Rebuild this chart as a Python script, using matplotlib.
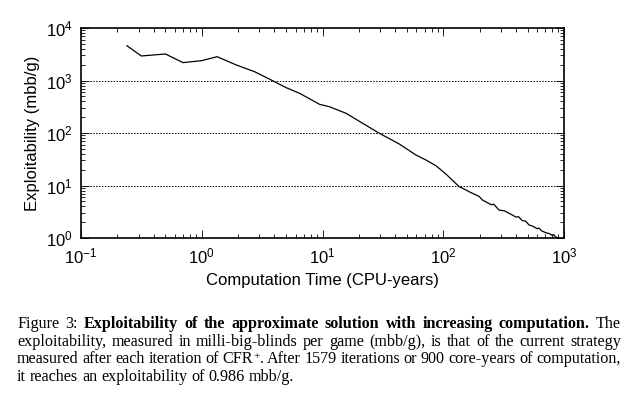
import matplotlib
matplotlib.use("Agg")
import matplotlib.pyplot as plt
from matplotlib.ticker import LogLocator, NullFormatter

# --- donnees ---
temps = [0.24, 0.316, 0.50, 0.70, 1.0, 1.34, 1.94, 2.74, 3.77, 5.0, 6.46, 9.45,
         11.4, 15.7, 21.5, 29.6, 43.3, 59.4, 71.9, 87.0, 105, 135.5, 144, 170,
         198, 211, 250, 262, 290, 320, 374, 400, 420, 450, 480, 514, 550, 600,
         620, 650, 706, 750, 800, 820, 850, 880, 900]
exploit = [4600, 2930, 3200, 2190, 2390, 2840, 1970, 1470, 1020, 730, 570, 352,
           317, 237, 153, 98.6, 61.6, 38.1, 30.6, 23.8, 16.6, 9.5, 8.9, 7.3,
           6.2, 5.3, 4.3, 4.4, 3.4, 3.3, 2.74, 2.5, 2.55, 2.15, 2.1, 1.77, 1.68, 1.5,
           1.55, 1.38, 1.26, 1.22, 1.12, 1.16, 1.05, 1.02, 0.986]

plt.rcParams['font.family'] = ['Liberation Sans', 'DejaVu Sans']
plt.rcParams['mathtext.default'] = 'regular'
plt.rcParams['axes.unicode_minus'] = False

fig = plt.figure(figsize=(6.39, 3.99), dpi=100)
ax = fig.add_axes([81/639, 1-238/399, (564-81)/639, (238-28)/399])

ax.plot(temps, exploit, '-', color='black', lw=0.9)
ax.set_xscale('log')
ax.set_yscale('log')
ax.set_xlim(0.1, 1000)
ax.set_ylim(1, 10000)

ax.xaxis.set_major_locator(LogLocator(base=10, numticks=10))
ax.yaxis.set_major_locator(LogLocator(base=10, numticks=10))
ax.xaxis.set_minor_locator(LogLocator(base=10, subs=range(2, 10), numticks=20))
ax.yaxis.set_minor_locator(LogLocator(base=10, subs=range(2, 10), numticks=20))
ax.xaxis.set_minor_formatter(NullFormatter())
ax.yaxis.set_minor_formatter(NullFormatter())

ax.tick_params(which='both', direction='in', top=True, right=True, width=0.6)
ax.tick_params(which='major', length=6, labelsize=12, pad=6)
ax.tick_params(which='minor', length=3)
for s in ax.spines.values():
    s.set_linewidth(1.2)

for v in [10, 100, 1000]:
    ax.axhline(v, color='black', lw=0.7, ls=(0, (1.5, 1.5)))

ax.set_xlabel('Computation Time (CPU-years)', fontsize=12, labelpad=5)
ax.set_ylabel('Exploitability (mbb/g)', fontsize=12, labelpad=4)

# --- legende sous la figure (texte justifie) ---
fig.canvas.draw()
rend = fig.canvas.get_renderer()
serif = ['Liberation Serif', 'DejaVu Serif']
taille = 11.6
x_g, x_d = 17, 621

lignes = [
    ([("Figure", 'normal'), ("3:", 'normal')] +
     [(m, 'bold') for m in "Exploitability of the approximate solution with increasing computation.".split()] +
     [("The", 'normal')], True, 327.7),
    ([(m, 'normal') for m in "exploitability, measured in milli-big-blinds per game (mbb/g), is that of the current strategy".split()], True, 345.7),
    ([(m, 'normal') for m in "measured after each iteration of CFR+. After 1579 iterations or 900 core-years of computation,".split()], True, 363.4),
    ([(m, 'normal') for m in "it reaches an exploitability of 0.986 mbb/g.".split()], False, 381.2),
]

def px2fig(x, y):
    return x / 639, 1 - y / 399

for mots, justif, yb in lignes:
    objets = []
    largeurs = []
    for mot, poids in mots:
        if mot == "CFR+.":
            morceaux = [("CFR", poids, taille, 0), ("+", poids, taille*0.7, -4.5), (".", poids, taille, 0)]
        else:
            morceaux = [(mot, poids, taille, 0)]
        groupe = []
        w = 0
        for txt, pd, sz, dy in morceaux:
            t = fig.text(0, 0, txt, fontsize=sz, fontweight=pd, family=serif,
                         ha='left', va='baseline')
            bb = t.get_window_extent(rend)
            groupe.append((t, w, dy))
            w += bb.width
        objets.append(groupe)
        largeurs.append(w)
    espace = 4.0
    if justif:
        espace = (x_d - x_g - sum(largeurs)) / (len(mots) - 1)
    x = x_g
    for groupe, w in zip(objets, largeurs):
        for t, dx, dy in groupe:
            t.set_position(px2fig(x + dx, yb + dy))
        x += w + espace

fig.savefig('out.png', dpi=100)
